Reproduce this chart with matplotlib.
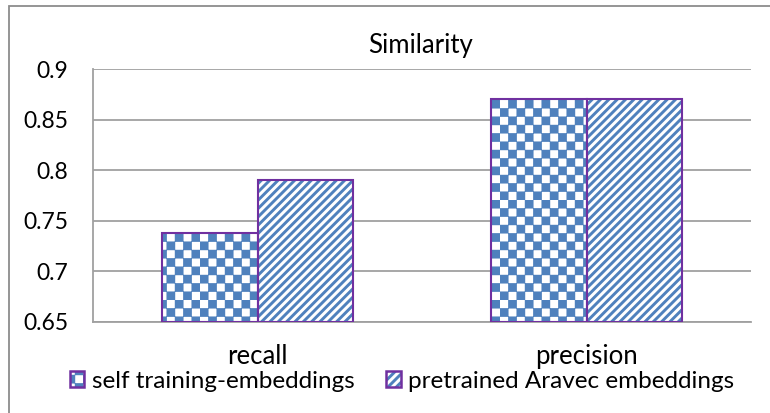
import numpy as np
import matplotlib
matplotlib.use("Agg")
import matplotlib.pyplot as plt
import matplotlib.hatch as mhatch
from matplotlib.path import Path
from matplotlib.patches import Rectangle

# ---- data ----
categories = ["recall", "precision"]
series_names = ["self training-embeddings", "pretrained Aravec embeddings"]
self_training = [0.738, 0.870]
pretrained_aravec = [0.790, 0.870]
title = "Similarity"
y_ticks = [0.65, 0.7, 0.75, 0.8, 0.85, 0.9]
y_tick_labels = ["0.65", "0.7", "0.75", "0.8", "0.85", "0.9"]

# ---- custom checkerboard hatch ----
class CheckerHatch(mhatch.HatchPatternBase):
    def __init__(self, hatch, density):
        self.on = 'c' in hatch
        self.n = 12
        self.num_vertices = (self.n * self.n // 2) * 5 if self.on else 0

    def set_vertices_and_codes(self, vertices, codes):
        n = self.n
        cell = 1.0 / n
        inset = 0.0125
        k = 0
        for i in range(n):
            for j in range(n):
                if (i + j) % 2:
                    continue
                x0, y0 = i * cell + inset, j * cell + inset
                x1, y1 = (i + 1) * cell - inset, (j + 1) * cell - inset
                vertices[k:k + 5] = [(x0, y0), (x1, y0), (x1, y1), (x0, y1), (x0, y0)]
                codes[k:k + 5] = [Path.MOVETO, Path.LINETO, Path.LINETO,
                                  Path.LINETO, Path.CLOSEPOLY]
                k += 5

mhatch._hatch_types.append(CheckerHatch)
mhatch._validate_hatch_pattern = lambda h: None

plt.rcParams['font.family'] = ['Lato', 'DejaVu Sans']
plt.rcParams['hatch.linewidth'] = 2.1

BLUE = "#4F81BD"
PURPLE = "#7030A0"
GRID = "#A0A0A0"
FS_TICK = 16.5
FS_CAT = 18.5
FS_TITLE = 18.5
FS_LEG = 17.5

fig = plt.figure(figsize=(7.7, 4.13), dpi=100)
ax = fig.add_axes([93 / 770, 1 - 322 / 413, (751 - 93) / 770, (322 - 69) / 413])

x = np.arange(len(categories))
w = 0.289
hatches = ['c', '////']
handles = []
for k, (vals, hatch) in enumerate(zip([self_training, pretrained_aravec], hatches)):
    pos = x + (k - 0.5) * w
    ax.bar(pos, np.array(vals) - 0.65, w, bottom=0.65, facecolor="white",
           edgecolor=BLUE, linewidth=0, hatch=hatch, zorder=3)
    ax.bar(pos, np.array(vals) - 0.65, w, bottom=0.65, facecolor="none",
           edgecolor=PURPLE, linewidth=1.5, zorder=4)
    hp = Rectangle((0, 0), 1, 1, facecolor="white", edgecolor=BLUE, linewidth=0, hatch=hatch)
    op = Rectangle((0, 0), 1, 1, facecolor="none", edgecolor=PURPLE, linewidth=1.8)
    handles.append((hp, op))

ax.set_xlim(-0.5, 1.5)
ax.set_ylim(0.65, 0.9)
ax.set_yticks(y_ticks)
ax.set_yticklabels(y_tick_labels, fontsize=FS_TICK)
ax.set_xticks(x)
ax.set_xticklabels(categories, fontsize=FS_CAT)
ax.tick_params(axis='y', length=0, pad=18)
ax.tick_params(axis='x', length=0, pad=16)
ax.yaxis.grid(True, color=GRID, linewidth=1.3, zorder=0)
ax.set_axisbelow(True)
for s in ['top', 'right']:
    ax.spines[s].set_visible(False)
ax.spines['left'].set_color(GRID)
ax.spines['bottom'].set_color(GRID)
ax.spines['left'].set_linewidth(1.3)
ax.spines['bottom'].set_linewidth(1.3)

fig.text(421 / 770, 1 - 45 / 413, title, ha='center', va='center', fontsize=FS_TITLE)

fig.legend(handles, series_names, loc='center', bbox_to_anchor=(402 / 770, 1 - 381 / 413),
           ncol=2, frameon=False, fontsize=FS_LEG, handlelength=0.6, handleheight=0.6,
           handletextpad=0.3, columnspacing=1.3, borderaxespad=0)

# outer chart border (right/bottom edges lie outside the picture)
fig.add_artist(Rectangle((9 / 770, -0.2), 1.5, 1 - 6 / 413 + 0.2, transform=fig.transFigure,
                         facecolor="none", edgecolor="#8C8C8C", linewidth=1.3))

fig.savefig("out.png", dpi=100)
